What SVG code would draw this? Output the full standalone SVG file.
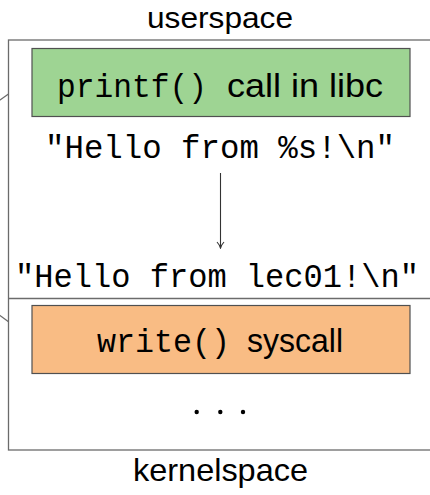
<svg xmlns="http://www.w3.org/2000/svg" width="430" height="495" viewBox="0 0 430 495">
<style>
.frame{fill:none;stroke:#6b6b6b;stroke-width:1.3}
.box{stroke:#505050;stroke-width:1.2}
.sans{font-family:"Liberation Sans","Open Sans",sans-serif;fill:#000}
.mono{font-family:"Liberation Mono","DejaVu Sans Mono",monospace;fill:#000}
.conn{fill:none;stroke:#333;stroke-width:1.1}
</style>
<defs>
<marker id="arr" viewBox="0 0 10 10" refX="9" refY="5" markerWidth="10" markerHeight="10" markerUnits="userSpaceOnUse" orient="auto">
<path d="M3,1.5 Q6,4.2 9,5 Q6,5.8 3,8.5" fill="none" stroke="#333" stroke-width="1.1"/>
</marker>
</defs>
<rect width="430" height="495" fill="#fff"/>
<g id="frame">
<rect class="frame" x="8.5" y="40" width="430" height="410"/>
<line class="frame" x1="8.5" y1="298.5" x2="430" y2="298.5"/>
<text class="sans" x="220" y="28" font-size="30" text-anchor="middle" textLength="146" lengthAdjust="spacingAndGlyphs">userspace</text>
<text class="sans" x="220.5" y="481" font-size="32" text-anchor="middle" textLength="175" lengthAdjust="spacingAndGlyphs">kernelspace</text>
</g>
<g id="printf">
<rect class="box" x="32" y="48.5" width="378" height="68" fill="#9ed493"/>
<text class="mono" x="57" y="97" font-size="33" textLength="150" lengthAdjust="spacingAndGlyphs">printf()</text>
<text class="sans" x="227" y="97" font-size="34" textLength="156" lengthAdjust="spacingAndGlyphs">call in libc</text>
</g>
<g id="fmt">
<text class="mono" x="220" y="158" font-size="33" text-anchor="middle" textLength="350" lengthAdjust="spacingAndGlyphs">"Hello from %s!\n"</text>
</g>
<g id="result">
<text class="mono" x="217" y="287" font-size="33" text-anchor="middle" textLength="404" lengthAdjust="spacingAndGlyphs">"Hello from lec01!\n"</text>
</g>
<g id="write">
<rect class="box" x="32" y="305.5" width="378" height="68" fill="#f9bc84"/>
<text class="mono" x="97" y="352" font-size="33" textLength="133" lengthAdjust="spacingAndGlyphs">write()</text>
<text class="sans" x="247" y="352" font-size="34" textLength="96" lengthAdjust="spacingAndGlyphs">syscall</text>
</g>
<g id="dots">
<circle cx="196.7" cy="412" r="2.2" fill="#000"/>
<circle cx="220.3" cy="412" r="2.2" fill="#000"/>
<circle cx="243" cy="412" r="2.2" fill="#000"/>
</g>
<g id="connectors">
<line class="conn" x1="220.5" y1="173" x2="220.5" y2="248" marker-end="url(#arr)"/>
<line class="frame" x1="-2" y1="101.5" x2="8.5" y2="94"/>
<line class="frame" x1="-2" y1="314" x2="8.5" y2="321.7"/>
</g>
</svg>
